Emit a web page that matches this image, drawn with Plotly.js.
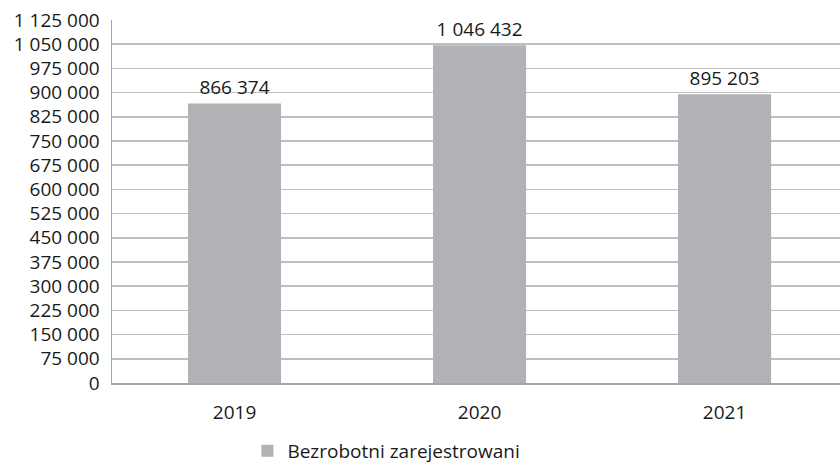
<!DOCTYPE html>
<html><head><meta charset="utf-8">
<script src="https://cdn.plot.ly/plotly-3.0.1.min.js"></script>
<style>html,body{margin:0;padding:0;background:#fff}#c{width:840px;height:467px}</style>
</head><body><div id="c"></div>
<script>
const categories = ['2019', '2020', '2021'];
const values = [866374, 1046432, 895203];
const seriesName = 'Bezrobotni zarejestrowani';
const tickValues = [0,75000,150000,225000,300000,375000,450000,525000,600000,675000,750000,825000,900000,975000,1050000,1125000];

const font = {family: 'Open Sans, Liberation Sans, Arial, sans-serif', size: 19, color: '#1a1a1a'};
Plotly.newPlot('c', [{
  type: 'bar', x: categories, y: values, name: seriesName,
  marker: {color: '#B1B2B5'},
  texttemplate: '%{y:,d}', textposition: 'outside', cliponaxis: false,
  textfont: font, showlegend: true, hoverinfo: 'none'
}], {
  width: 840, height: 467, separators: '. ',
  margin: {l: 112, r: 0, t: 20, b: 84, autoexpand: false},
  font: font, bargap: 0.62,
  paper_bgcolor: '#fff', plot_bgcolor: '#fff',
  xaxis: {type: 'category', range: [-0.5, 2.471], showline: true, linecolor: '#A6A6A6', linewidth: 1.5,
          ticks: '', tickfont: font, showgrid: false, fixedrange: true, ticklabelstandoff: 12},
  yaxis: {range: [0, 1125000], tickvals: tickValues, tickformat: ',d', showgrid: true, gridcolor: '#BFBFBF', gridwidth: 1.5,
          showline: true, linecolor: '#A6A6A6', linewidth: 1.5, ticks: '', tickfont: font, zeroline: false,
          automargin: false, ticklabelstandoff: 7},
  legend: {orientation: 'h', x: 0.186, xref: 'paper', xanchor: 'left', y: -0.135, yanchor: 'top', font: font},
  showlegend: true
}, {staticPlot: true});
</script></body></html>
